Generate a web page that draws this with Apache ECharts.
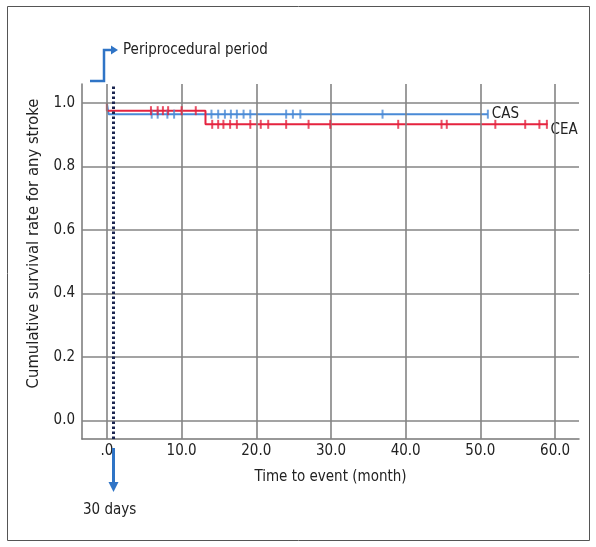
<!DOCTYPE html>
<html>
<head>
<meta charset="utf-8">
<script src="https://cdn.jsdelivr.net/npm/echarts@6/dist/echarts.min.js"></script>
<style>
  html, body { margin: 0; padding: 0; background: #fff; }
  #chart { width: 596px; height: 547px; }
</style>
</head>
<body>
<div id="chart"></div>
<script>
// ticks
const xTicks = [0, 10, 20, 30, 40, 50, 60];
const yTicks = [0, 0.2, 0.4, 0.6, 0.8, 1.0];

// Kaplan-Meier steps [month, survival]
const casCurve = [[0, 1], [0.23, 0.965], [51.0, 0.965]];
const ceaCurve = [[0, 1], [0, 0.976], [13.2, 0.933], [59.0, 0.933]];

// censored times (month)
const casCensor = [6.0, 6.8, 8.1, 9.0, 14.0, 14.9, 15.8, 16.6, 17.4, 18.3, 19.2, 24.0, 24.9, 25.9, 36.9, 51.0];
const ceaCensor = [5.9, 6.8, 7.5, 8.2, 10.0, 11.9, 14.1, 14.9, 15.6, 16.5, 17.4, 19.2, 20.6, 21.6, 24.0,
  27.0, 29.9, 39.0, 44.8, 45.5, 52.0, 56.0, 57.9, 58.9];

const periDay = 0.9; // 30 days in months

const casColor = '#4a8ad6';
const ceaColor = '#e5233f';
const gridColor = '#848484';
const font = "'DejaVu Sans Condensed', 'DejaVu Sans', sans-serif";

function survAt(curve, t) {
  let s = curve[0][1];
  curve.forEach(p => { if (p[0] <= t) s = p[1]; });
  return s;
}

const myChart = echarts.init(document.getElementById('chart'));

const option = {
  animation: false,
  grid: { left: 82, right: 17, top: 84, bottom: 108 },
  xAxis: {
    type: 'value',
    min: -3.33,
    max: 63.2,
    name: 'Time to event (month)',
    nameLocation: 'middle',
    nameGap: 31,
    nameTextStyle: { color: '#222', fontSize: 15, fontFamily: font },
    axisLine: { show: true, onZero: false, lineStyle: { color: '#777', width: 1.5 } },
    axisTick: { show: false },
    splitLine: { show: false },
    axisLabel: {
      customValues: xTicks,
      color: '#222', fontSize: 15, fontFamily: font, margin: 5,
      formatter: v => (v === 0 ? '.0' : v.toFixed(1))
    }
  },
  yAxis: {
    type: 'value',
    min: -0.058,
    max: 1.06,
    name: 'Cumulative survival rate for any stroke',
    nameLocation: 'middle',
    nameGap: 34,
    nameTextStyle: { color: '#222', fontSize: 16.5, fontFamily: font, padding: [0, 0, 0, 36] },
    axisLine: { show: true, onZero: false, lineStyle: { color: '#777', width: 1.5 } },
    axisTick: { show: false },
    splitLine: { show: false },
    axisLabel: {
      customValues: yTicks,
      color: '#222', fontSize: 15, fontFamily: font, margin: 7,
      formatter: v => v.toFixed(1)
    }
  },
  graphic: [
    // frame
    { type: 'rect', shape: { x: 7.5, y: 6.5, width: 582, height: 534 },
      style: { fill: 'none', stroke: '#555', lineWidth: 1 }, z: -1 },
    // periprocedural arrow
    { type: 'polyline', shape: { points: [[90, 81], [104, 81], [104, 50], [112, 50]] },
      style: { stroke: '#2f74c6', lineWidth: 2.5, fill: 'none' }, z: 10 },
    { type: 'polygon', shape: { points: [[111, 45.5], [118, 50], [111, 54.5]] },
      style: { fill: '#2f74c6' }, z: 10 },
    { type: 'text', x: 123, y: 50,
      style: { text: 'Periprocedural period', fill: '#222', font: '15px ' + font, verticalAlign: 'middle' } },
    // 30 days arrow
    { type: 'line', shape: { x1: 113.5, y1: 448, x2: 113.5, y2: 484 },
      style: { stroke: '#2f74c6', lineWidth: 3 }, z: 10 },
    { type: 'polygon', shape: { points: [[108.5, 482], [118.5, 482], [113.5, 492]] },
      style: { fill: '#2f74c6' }, z: 10 },
    { type: 'text', x: 83, y: 510,
      style: { text: '30 days', fill: '#222', font: '15px ' + font, verticalAlign: 'middle' } }
  ],
  series: [
    {
      name: 'grid',
      type: 'line',
      data: [],
      silent: true,
      z: 1,
      markLine: {
        silent: true,
        symbol: ['none', 'none'],
        label: { show: false },
        lineStyle: { color: gridColor, width: 1.6, type: 'solid' },
        data: xTicks.map(v => ({ xAxis: v })).concat(yTicks.map(v => ({ yAxis: v })))
      }
    },
    {
      name: 'CAS',
      type: 'line',
      step: 'end',
      data: casCurve,
      showSymbol: false,
      z: 3,
      lineStyle: { color: casColor, width: 2 },
      itemStyle: { color: casColor },
      endLabel: {
        show: true, formatter: 'CAS', color: '#222', fontSize: 15, fontFamily: font,
        distance: 4, offset: [0, 0]
      }
    },
    {
      name: 'CEA',
      type: 'line',
      step: 'end',
      data: ceaCurve,
      showSymbol: false,
      z: 4,
      lineStyle: { color: ceaColor, width: 2 },
      itemStyle: { color: ceaColor },
      endLabel: {
        show: true, formatter: 'CEA', color: '#222', fontSize: 15, fontFamily: font,
        distance: 3, offset: [0, 6]
      }
    },
    {
      name: 'CAS censored',
      type: 'scatter',
      data: casCensor.map(t => [t, survAt(casCurve, t)]),
      symbol: 'rect',
      symbolSize: [2, 9],
      itemStyle: { color: casColor },
      z: 5
    },
    {
      name: 'CEA censored',
      type: 'scatter',
      data: ceaCensor.map(t => [t, survAt(ceaCurve, t)]),
      symbol: 'rect',
      symbolSize: [2, 9],
      itemStyle: { color: ceaColor },
      z: 6
    },
    {
      name: '30 days',
      type: 'line',
      data: [],
      z: 7,
      markLine: {
        silent: true,
        symbol: ['none', 'none'],
        label: { show: false },
        lineStyle: { color: '#1b2550', width: 3, type: [2.5, 2.5] },
        data: [{ xAxis: periDay }]
      }
    }
  ]
};

myChart.setOption(option);
</script>
</body>
</html>
